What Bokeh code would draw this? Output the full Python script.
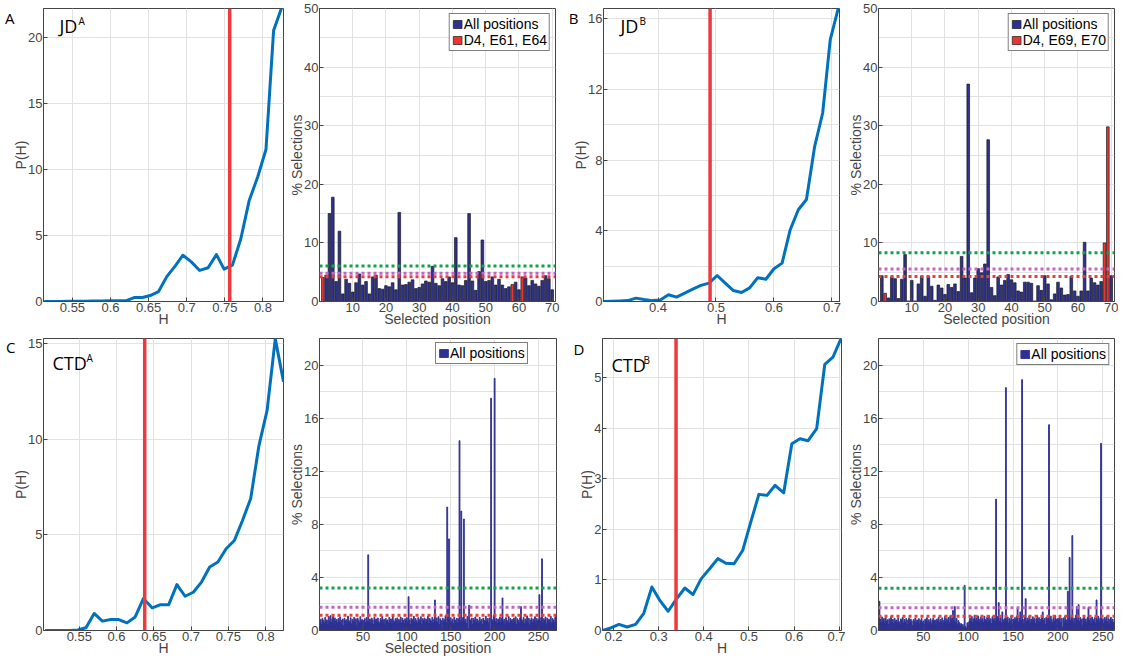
from bokeh.plotting import figure
from bokeh.models import (FixedTicker, PrintfTickFormatter, Span, Label, Legend, LinearAxis,
                          LegendItem, ColumnDataSource, Range1d, CustomJSTickFormatter)
from bokeh.layouts import column, row
from bokeh.embed import file_html
from bokeh.resources import INLINE

# ---------------- data ----------------
A_H = [0.513, 0.523, 0.534, 0.545, 0.556, 0.566, 0.577, 0.588, 0.599, 0.609, 0.620, 0.631, 0.642, 0.652, 0.663,
       0.674, 0.685, 0.695, 0.706, 0.717, 0.728, 0.739, 0.749, 0.760, 0.771, 0.782, 0.793, 0.804, 0.814, 0.825]
A_P = [0, 0, 0, 0.02, 0.02, 0.02, 0.03, 0.03, 0.05, 0.05, 0.05, 0.3, 0.3, 0.45, 0.75,
       1.9, 2.7, 3.5, 3.0, 2.35, 2.55, 3.55, 2.45, 2.75, 4.75, 7.65, 9.4, 11.5, 20.5, 22.3]
A_THRESH = 0.7564

B_H = [0.306, 0.320, 0.334, 0.348, 0.362, 0.376, 0.390, 0.404, 0.418, 0.432, 0.446, 0.460, 0.474, 0.488, 0.502,
       0.516, 0.530, 0.544, 0.558, 0.572, 0.586, 0.600, 0.614, 0.628, 0.642, 0.656, 0.670, 0.684, 0.697, 0.711]
B_P = [0, 0.02, 0.03, 0.05, 0.19, 0.11, 0.05, 0.09, 0.38, 0.25, 0.47, 0.70, 0.91, 1.04, 1.47,
       1.04, 0.62, 0.51, 0.77, 1.34, 1.26, 1.85, 2.17, 4.06, 5.19, 5.77, 8.74, 10.66, 14.8, 16.6]
B_THRESH = 0.4898

C_H = [0.504, 0.515, 0.526, 0.537, 0.548, 0.559, 0.570, 0.581, 0.592, 0.603, 0.614, 0.625, 0.636, 0.648, 0.659,
       0.670, 0.681, 0.692, 0.703, 0.714, 0.725, 0.736, 0.747, 0.758, 0.769, 0.780, 0.791, 0.802, 0.813, 0.824]
C_P = [0, 0, 0, 0, 0.03, 0.14, 0.89, 0.49, 0.57, 0.57, 0.40, 0.71, 1.67, 1.18, 1.35,
       1.35, 2.4, 1.79, 2.0, 2.53, 3.32, 3.58, 4.27, 4.7, 5.75, 6.9, 9.65, 11.5, 15.25, 13.0]
C_THRESH = 0.6378

D_H = [0.176, 0.194, 0.212, 0.230, 0.249, 0.267, 0.285, 0.303, 0.321, 0.340, 0.358, 0.376, 0.394, 0.413, 0.431,
       0.449, 0.467, 0.486, 0.504, 0.522, 0.540, 0.558, 0.577, 0.595, 0.613, 0.631, 0.650, 0.668, 0.686, 0.704]
D_P = [0, 0.05, 0.12, 0.07, 0.12, 0.34, 0.86, 0.59, 0.38, 0.63, 0.84, 0.71, 1.02, 1.22, 1.42,
       1.33, 1.32, 1.58, 2.14, 2.69, 2.67, 2.87, 2.72, 3.69, 3.79, 3.75, 3.99, 5.26, 5.40, 5.77]
D_THRESH = 0.3385

# % selections per position, JD (70 positions)
A_SEL = [4.1, 4.5, 15.0, 17.8, 3.4, 12.0, 1.3, 3.8, 3.1, 1.6,
         3.2, 4.7, 2.8, 3.4, 1.3, 4.2, 4.5, 2.2, 2.1, 2.7,
         2.5, 3.2, 2.0, 15.2, 2.8, 2.9, 3.3, 3.7, 2.2, 2.4,
         3.0, 3.5, 3.3, 6.0, 3.1, 2.7, 3.9, 3.4, 4.2, 3.2,
         10.9, 2.8, 2.7, 3.6, 15.0, 3.5, 1.9, 5.1, 10.5, 3.4,
         3.6, 4.2, 2.8, 3.8, 2.8, 2.2, 2.5, 2.9, 3.3, 2.0,
         4.2, 4.0, 2.7, 3.6, 3.0, 2.6, 3.6, 4.4, 3.9, 2.0]
A_RED = [1, 58, 61]
A_LEVELS = [6.04, 4.84, 4.21]

B_SEL = [4.4, 1.4, 0.6, 4.2, 3.9, 0.5, 3.8, 8.0, 0.1, 3.6,
         0.1, 3.0, 4.3, 0.9, 4.3, 2.6, 0.2, 2.8, 2.3, 1.2,
         2.9, 2.4, 3.0, 1.7, 7.7, 4.0, 37.1, 1.5, 4.0, 5.6,
         4.9, 6.4, 27.6, 2.4, 1.0, 4.2, 2.8, 3.6, 4.6, 3.7,
         3.2, 1.8, 1.6, 3.3, 3.3, 3.1, 0.1, 2.7, 1.9, 4.4,
         3.0, 0.3, 1.3, 3.3, 2.3, 1.1, 1.2, 4.3, 1.8, 0.9,
         1.8, 10.1, 1.8, 4.0, 3.2, 2.8, 3.4, 10.0, 29.8, 4.4]
B_RED = [2, 68, 69]
B_LEVELS = [8.3, 5.55, 4.27]

# % selections per position, CTD A (270 positions)
C_SEL = [0.62, 0.85, 0.48, 0.91, 0.73, 0.55, 0.98, 0.67, 0.80, 0.44,
         1.05, 0.72, 1.12, 0.60, 0.88, 1.18, 0.52, 0.95, 0.70, 0.83,
         0.58, 0.90, 0.66, 1.02, 0.47, 0.78, 0.86, 0.35, 0.93, 0.69,
         0.81, 0.57, 1.08, 0.74, 0.62, 0.96, 0.50, 0.84, 0.71, 0.99,
         0.63, 0.88, 0.40, 0.92, 0.77, 0.58, 1.04, 0.68, 0.82, 0.15,
         0.75, 0.89, 0.61, 0.97, 0.70, 5.70, 0.64, 0.86, 0.52, 0.93,
         0.79, 0.45, 1.00, 0.73, 0.87, 0.60, 0.94, 0.68, 0.55, 0.90,
         0.76, 1.06, 0.63, 0.84, 0.42, 0.91, 0.72, 0.80, 0.59, 0.98,
         0.66, 0.87, 0.50, 1.10, 0.74, 0.62, 0.89, 0.70, 0.95, 0.48,
         0.83, 0.67, 1.01, 0.58, 0.92, 0.77, 0.54, 0.88, 0.71, 0.96,
         0.64, 2.55, 0.80, 0.46, 0.93, 0.69, 0.85, 1.07, 0.61, 0.90,
         0.73, 0.56, 0.97, 0.82, 0.65, 1.03, 0.49, 0.88, 0.76, 0.94,
         0.60, 0.86, 0.71, 1.09, 0.53, 0.91, 0.78, 0.66, 0.99, 0.57,
         0.84, 2.30, 0.70, 0.95, 0.62, 1.04, 0.45, 0.89, 0.75, 0.10,
         0.92, 0.68, 0.83, 1.12, 0.59, 9.30, 0.87, 6.90, 0.72, 0.96,
         0.64, 0.85, 0.51, 1.00, 0.79, 0.67, 0.93, 0.58, 0.88, 14.30,
         0.74, 9.00, 0.62, 0.97, 8.40, 0.70, 0.86, 0.54, 1.05, 0.12,
         1.90, 0.81, 0.66, 0.94, 0.49, 0.90, 0.73, 1.02, 0.60, 0.87,
         0.76, 0.55, 0.98, 0.69, 0.84, 0.47, 0.92, 0.78, 0.63, 1.08,
         0.71, 0.89, 0.57, 0.95, 0.08, 17.50, 0.82, 0.65, 1.15, 19.00,
         0.68, 0.91, 0.52, 0.86, 0.74, 1.01, 0.60, 0.93, 2.45, 0.70,
         0.85, 0.43, 0.97, 0.77, 0.64, 1.06, 0.58, 0.90, 0.72, 0.83,
         0.55, 0.94, 0.69, 1.03, 0.48, 0.88, 0.75, 0.61, 0.96, 1.80,
         0.80, 0.66, 0.99, 0.53, 0.87, 0.71, 1.10, 0.59, 0.92, 0.44,
         0.78, 0.95, 0.63, 0.86, 0.70, 1.04, 0.57, 0.91, 0.74, 0.82,
         2.70, 0.68, 0.97, 5.40, 0.60, 0.89, 0.76, 1.02, 0.51, 0.93,
         0.72, 0.84, 0.65, 1.07, 0.58, 0.90, 0.79, 0.62, 0.98, 1.12]
C_LEVELS = [3.2, 1.75, 1.15]

# % selections per position, CTD B (262 positions)
D_SEL = [2.20, 0.85, 0.62, 1.02, 0.74, 0.90, 0.55, 0.96, 0.68, 0.81,
         0.47, 0.88, 0.73, 1.05, 0.60, 0.84, 0.52, 0.92, 0.70, 0.79,
         0.58, 0.95, 0.66, 0.41, 0.87, 0.72, 0.99, 0.56, 0.83, 0.64,
         0.90, 0.49, 0.78, 0.93, 0.61, 0.86, 0.70, 0.38, 0.82, 0.67,
         0.94, 0.57, 0.80, 0.65, 0.89, 0.52, 0.76, 0.91, 0.60, 0.72,
         0.45, 0.85, 0.69, 0.97, 0.58, 0.81, 0.63, 0.88, 0.50, 0.75,
         0.92, 0.66, 0.79, 0.42, 0.86, 0.71, 1.00, 0.59, 0.83, 0.68,
         0.95, 0.54, 0.77, 1.08, 0.62, 0.89, 0.73, 0.98, 0.57, 1.12,
         0.80, 0.96, 1.50, 0.70, 1.80, 0.64, 0.91, 0.48, 0.75, 0.60,
         0.35, 0.52, 0.28, 0.45, 0.22, 3.40, 0.30, 0.15, 0.58, 0.40,
         0.66, 0.93, 0.72, 1.05, 0.61, 0.87, 1.15, 0.78, 0.95, 0.69,
         1.10, 0.84, 0.57, 1.02, 0.76, 0.90, 0.63, 1.08, 0.82, 0.71,
         0.98, 0.60, 1.13, 0.74, 0.88, 0.52, 1.04, 0.79, 0.93, 0.67,
         9.90, 0.85, 1.06, 2.10, 0.70, 0.96, 0.58, 1.40, 0.81, 0.64,
         0.92, 18.30, 0.75, 1.01, 0.55, 0.89, 0.72, 1.12, 0.46, 0.86,
         0.68, 0.97, 0.80, 1.07, 1.70, 0.62, 0.91, 1.40, 0.77, 18.90,
         0.84, 0.50, 0.99, 2.40, 0.69, 0.93, 0.74, 1.09, 0.58, 0.87,
         0.65, 1.03, 0.79, 0.92, 0.53, 0.88, 1.11, 0.71, 0.96, 0.60,
         0.85, 1.05, 1.40, 0.73, 0.90, 0.48, 1.00, 0.78, 0.94, 15.50,
         0.67, 1.08, 0.82, 0.59, 0.97, 0.72, 1.13, 0.86, 0.43, 0.91,
         0.76, 1.02, 0.62, 0.89, 0.25, 0.95, 0.70, 1.10, 0.81, 0.57,
         2.95, 0.88, 5.50, 0.74, 1.04, 7.15, 0.66, 0.93, 0.51, 1.15,
         1.80, 0.79, 1.95, 0.68, 0.97, 0.83, 0.40, 0.90, 1.06, 0.72,
         0.87, 0.61, 0.99, 1.75, 0.75, 0.92, 0.55, 1.01, 0.84, 0.69,
         0.96, 0.58, 2.30, 0.80, 1.07, 0.64, 0.90, 14.10, 0.73, 0.88,
         0.52, 0.97, 0.78, 1.03, 0.66, 0.91, 0.45, 0.85, 0.99, 0.70,
         0.86, 0.60]
D_LEVELS = [3.19, 1.71, 1.08]

# ticks
H_TICKS_A = [0.55, 0.6, 0.65, 0.7, 0.75, 0.8]
H_TICKS_B = [0.4, 0.5, 0.6, 0.7]
H_TICKS_D = [0.2, 0.3, 0.4, 0.5, 0.6, 0.7]
POS_TICKS_JD = [10, 20, 30, 40, 50, 60, 70]
POS_TICKS_CTD = [50, 100, 150, 200, 250]

# ---------------- style ----------------
TICK_FONT = "Liberation Sans"
LETTER_FONT = "Open Sans"
AXC = "#454545"
GRID = "#e2e2e2"
BLUE = "#0072BD"
RED = "#ef3a3d"
NAVY = "#2e3192"
RED_BAR = "#ee3333"
LEVEL_COLORS = ["#12a24a", "#c664c6", "#ef3b3b"]

FRAME1, FRAME2 = 293, 292
TOP1, TOP2, BOT = 8, 7, 30
ROW1_H = TOP1 + FRAME1 + BOT
ROW2_H = TOP2 + FRAME2 + BOT


def make_fig(w, h, top, left, right, xr, yr, xticks, yticks, yminor, xlabel, ylabel, xfmt=None):
    p = figure(width=w, height=h, x_range=Range1d(*xr), y_range=Range1d(*yr),
               output_backend="svg", toolbar_location=None, tools="",
               min_border_left=left, min_border_right=right,
               min_border_top=top, min_border_bottom=BOT)
    p.xaxis.ticker = FixedTicker(ticks=xticks)
    p.yaxis.ticker = FixedTicker(ticks=yticks, minor_ticks=yminor)
    if xfmt:
        p.xaxis.formatter = PrintfTickFormatter(format=xfmt)
    p.xaxis.axis_label = xlabel
    p.yaxis.axis_label = ylabel
    for ax in (p.xaxis[0], p.yaxis[0]):
        ax.major_tick_in = 4
        ax.major_tick_out = 0
        ax.minor_tick_in = 0
        ax.minor_tick_out = 0
        ax.major_tick_line_color = AXC
        ax.axis_line_color = AXC
        ax.major_label_text_font = TICK_FONT
        ax.major_label_text_font_size = "13px"
        ax.major_label_text_color = AXC
        ax.axis_label_text_font = TICK_FONT
        ax.axis_label_text_font_size = "14px"
        ax.axis_label_text_font_style = "normal"
        ax.axis_label_text_color = AXC
        ax.major_label_standoff = 1
        ax.axis_label_standoff = -4
    p.outline_line_color = AXC
    p.outline_line_alpha = 1.0
    p.xgrid.grid_line_color = GRID
    p.ygrid.grid_line_color = GRID
    p.ygrid.minor_grid_line_color = GRID
    p.background_fill_color = "white"
    p.border_fill_color = "white"
    return p


def add_titles(p, frame_h, letter, letter_dy, letter_shift, main, mx, my, sup, sx):
    # panel letter: an outer left axis with one tick, labelled with the letter
    ytop = p.y_range.end
    tick = round(ytop - letter_dy * ytop / frame_h, 4)
    ax = LinearAxis(ticker=FixedTicker(ticks=[tick]),
                    formatter=CustomJSTickFormatter(code="return '%s'" % letter))
    ax.axis_line_color = None
    ax.major_tick_line_color = None
    ax.minor_tick_line_color = None
    ax.major_tick_in = 0
    ax.major_tick_out = 0
    ax.minor_tick_in = 0
    ax.minor_tick_out = 0
    ax.major_label_standoff = -int(letter_shift)
    ax.major_label_text_font = LETTER_FONT
    ax.major_label_text_font_size = "15px"
    ax.major_label_text_color = "black"
    p.add_layout(ax, "left")
    xs, ye = p.x_range.start, p.y_range.end
    p.add_layout(Label(x=xs, y=ye, x_offset=mx, y_offset=-my, text=main,
                       text_font=LETTER_FONT, text_font_size="18px", text_color="black",
                       text_baseline="top", text_align="left"))
    p.add_layout(Label(x=xs, y=ye, x_offset=sx, y_offset=-my, text=sup,
                       text_font=LETTER_FONT, text_font_size="10px", text_color="black",
                       text_baseline="top", text_align="left"))


def line_panel(w, h, top, left, right, xr, ytop, xticks, yticks, yminor, H, P, thresh):
    p = make_fig(w, h, top, left, right, xr, (0, ytop), xticks, yticks, yminor, "H", "P(H)", "%g")
    p.add_layout(Span(location=thresh, dimension="height", line_color=RED, line_width=3.5))
    p.line(H, P, line_width=3, line_color=BLUE, line_join="round")
    return p


def bar_panel(w, h, top, left, right, xr, ytop, xticks, yticks, yminor, sel, red, levels,
              xlabel, legend_labels, legend_loc, thin=False):
    p = make_fig(w, h, top, left, right, xr, (0, ytop), xticks, yticks, yminor, xlabel, "% Selections")
    pos = list(range(1, len(sel) + 1))
    nx = [x for x in pos if x not in red]
    src_n = ColumnDataSource(dict(x=nx, top=[sel[x - 1] for x in nx]))
    items = []
    if thin:
        rn = p.vbar(x="x", top="top", width=1.0, source=src_n, fill_color=NAVY,
                    line_color=NAVY, line_width=0.9)
    else:
        rn = p.vbar(x="x", top="top", width=0.8, source=src_n, fill_color=NAVY,
                    line_color="#1a1a1a", line_width=0.7)
    items.append(LegendItem(label=legend_labels[0], renderers=[rn]))
    if red:
        src_r = ColumnDataSource(dict(x=red, top=[sel[x - 1] for x in red]))
        rr = p.vbar(x="x", top="top", width=0.8, source=src_r, fill_color=RED_BAR,
                    line_color="#1a1a1a", line_width=0.7)
        items.append(LegendItem(label=legend_labels[1], renderers=[rr]))
    for lv, c in zip(levels, LEVEL_COLORS):
        p.add_layout(Span(location=lv, dimension="width", line_color=c, line_width=3,
                          line_dash="3 3"))
    lg = Legend(items=items, location=legend_loc, margin=5, padding=2, spacing=0,
                border_line_color="black", border_line_width=1,
                background_fill_color="white", background_fill_alpha=1.0,
                label_text_font=TICK_FONT, label_text_font_size="14px", label_text_color="black",
                glyph_width=11, glyph_height=10, label_height=14, label_standoff=1)
    p.add_layout(lg)
    return p


fA = line_panel(286, ROW1_H, TOP1, 43, 3, (0.512, 0.827), 22.17, H_TICKS_A,
                [0, 5, 10, 15, 20], [], A_H, A_P, A_THRESH)
add_titles(fA, FRAME1, "A", 9.5, 4, "JD", 16, 5, "A", 35)

fAb = bar_panel(279, ROW1_H, TOP1, 29, 10, (0, 71), 50, POS_TICKS_JD,
                [0, 10, 20, 30, 40, 50], [5, 15, 25, 35, 45], A_SEL, A_RED, A_LEVELS,
                "Selected position", ["All positions", "D4, E61, E64"], "top_right")

fB = line_panel(280, ROW1_H, TOP1, 36, 6, (0.306, 0.713), 16.57, H_TICKS_B,
                [0, 4, 8, 12, 16], [2, 6, 10, 14], B_H, B_P, B_THRESH)
add_titles(fB, FRAME1, "B", 10, 8, "JD", 17, 5, "B", 36)

fBb = bar_panel(273, ROW1_H, TOP1, 30, 4, (0, 71), 50, POS_TICKS_JD,
                [0, 10, 20, 30, 40, 50], [5, 15, 25, 35, 45], B_SEL, B_RED, B_LEVELS,
                "Selected position", ["All positions", "D4, E69, E70"], "top_right")

fC = line_panel(286, ROW2_H, TOP2, 43, 3, (0.502, 0.824), 15.26, H_TICKS_A,
                [0, 5, 10, 15], [], C_H, C_P, C_THRESH)
add_titles(fC, FRAME2, "C", 8.5, 5, "CTD", 9, 12, "A", 43)

fCb = bar_panel(279, ROW2_H, TOP2, 31, 9, (0.5, 270.5), 22, POS_TICKS_CTD,
                [0, 4, 8, 12, 16, 20], [2, 6, 10, 14, 18], C_SEL, [], C_LEVELS,
                "Selected position", ["All positions"], (116, 266), thin=True)

fD = line_panel(280, ROW2_H, TOP2, 37, 4, (0.1756, 0.705), 5.77, H_TICKS_D,
                [0, 1, 2, 3, 4, 5], [], D_H, D_P, D_THRESH)
add_titles(fD, FRAME2, "D", 10.5, 8, "CTD", 9, 14, "B", 41)

fDb = bar_panel(273, ROW2_H, TOP2, 31, 4, (0, 263), 22, POS_TICKS_CTD,
                [0, 4, 8, 12, 16, 20], [2, 6, 10, 14, 18], D_SEL, [], D_LEVELS,
                "", ["All positions"], "top_right", thin=True)

layout = column(row(fA, fAb, fB, fBb), row(fC, fCb, fD, fDb))

with open("out.html", "w") as f:
    f.write(file_html(layout, INLINE))
